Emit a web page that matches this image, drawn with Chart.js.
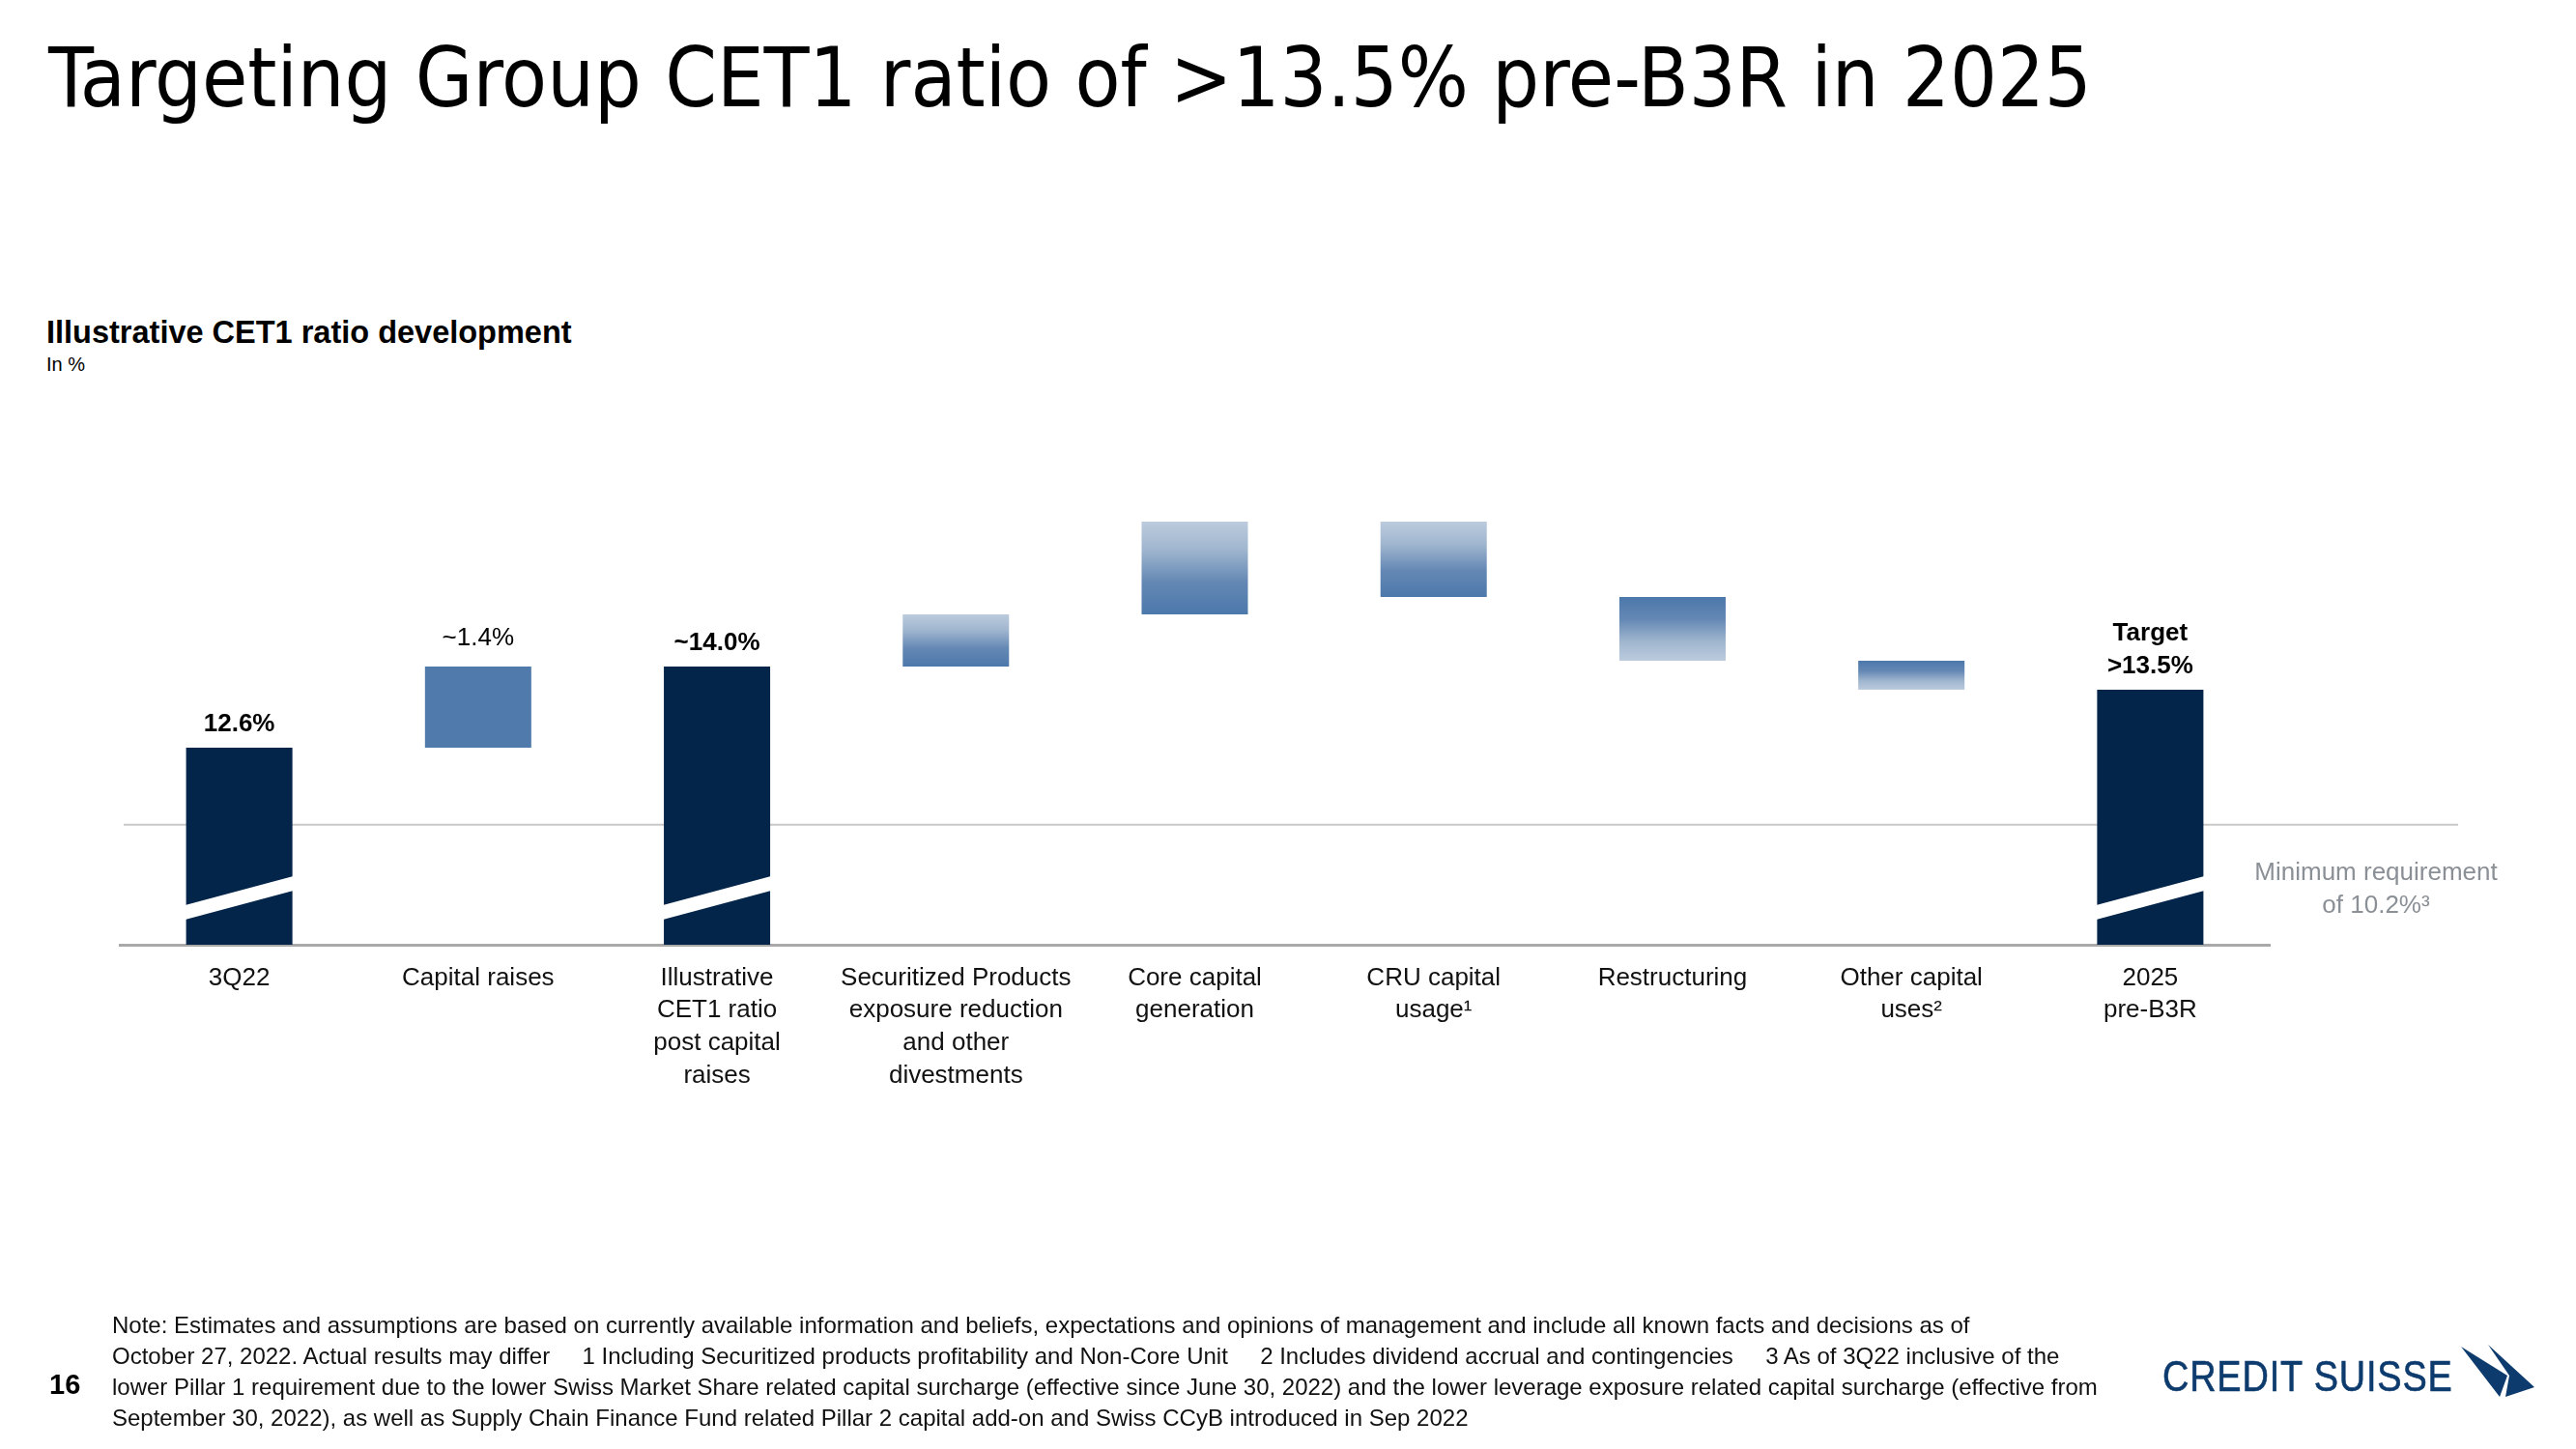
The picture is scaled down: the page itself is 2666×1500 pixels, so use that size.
<!DOCTYPE html>
<html>
<head>
<meta charset="utf-8">
<script src="https://cdn.jsdelivr.net/npm/chart.js@4.4.0/dist/chart.umd.min.js"></script>
<style>
  body { margin: 0; width: 2666px; height: 1500px; background: #fff; position: relative; overflow: hidden;
         font-family: "Liberation Sans", Arial, sans-serif; color: #000; }
  #wrap { position: absolute; left: 0; top: 0; width: 2666px; height: 1500px; }
  .title { position: absolute; left: 50px; top: 38px; font-family: "DejaVu Sans Condensed", "DejaVu Sans", sans-serif;
           font-size: 85.5px; line-height: 1; white-space: nowrap; }
  .sub { position: absolute; left: 48px; top: 326px; font-weight: bold; font-size: 32.5px; white-space: nowrap; }
  .unit { position: absolute; left: 48px; top: 366px; font-size: 20px; }
  .page { position: absolute; left: 51px; top: 1417px; font-weight: bold; font-size: 29px; }
  .note { position: absolute; left: 116px; top: 1356px; font-size: 24px; line-height: 32px; white-space: nowrap; color: #111; }
  .logo { position: absolute; left: 2238px; top: 1400px; font-size: 44px; color: #0d3b6e; white-space: nowrap;
          transform: scaleX(0.86); transform-origin: left top; letter-spacing: 1px; -webkit-text-stroke: 0.6px #0d3b6e; }
  .sail { position: absolute; left: 2543px; top: 1388px; }
</style>
</head>
<body>
<div class="title">Targeting Group CET1 ratio of &gt;13.5% pre-B3R in 2025</div>
<div class="sub">Illustrative CET1 ratio development</div>
<div class="unit">In %</div>
<div id="wrap"><canvas id="myCanvas"></canvas></div>
<div class="page">16</div>
<div class="note">Note: Estimates and assumptions are based on currently available information and beliefs, expectations and opinions of management and include all known facts and decisions as of<br>October 27, 2022. Actual results may differ &nbsp;&nbsp;&nbsp; 1 Including Securitized products profitability and Non-Core Unit &nbsp;&nbsp;&nbsp; 2 Includes dividend accrual and contingencies &nbsp;&nbsp;&nbsp; 3 As of 3Q22 inclusive of the<br>lower Pillar 1 requirement due to the lower Swiss Market Share related capital surcharge (effective since June 30, 2022) and the lower leverage exposure related capital surcharge (effective from<br>September 30, 2022), as well as Supply Chain Finance Fund related Pillar 2 capital add-on and Swiss CCyB introduced in Sep 2022</div>
<div class="logo">CREDIT SUISSE</div>
<svg class="sail" width="84" height="62" viewBox="0 0 84 62">
  <polygon points="4,6 52,36 44,58" fill="#0d3b6e"/>
  <polygon points="32,4 80,48 50,58 54,36" fill="#0d3b6e"/>
</svg>
<script>
// categories (multi-line axis labels)
var categories = [
    ['3Q22'],
    ['Capital raises'],
    ['Illustrative', 'CET1 ratio', 'post capital', 'raises'],
    ['Securitized Products', 'exposure reduction', 'and other', 'divestments'],
    ['Core capital', 'generation'],
    ['CRU capital', 'usage\u00B9'],
    ['Restructuring'],
    ['Other capital', 'uses\u00B2'],
    ['2025', 'pre-B3R']
];
// totals (full bars) and steps (floating bars), in %
var totals = [12.6, null, 14.0, null, null, null, null, null, 13.6];
var steps = [null, 1.4, null, 0.9, 1.6, -1.3, -1.1, -0.5, null];
var valueLabels = ['12.6%', '~1.4%', '~14.0%', '', '', '', '', '', 'Target\n>13.5%'];
var boldLabels = [true, false, true, false, false, false, false, false, true];
// broken axis: floor of the visible scale and where the minimum line sits on it
var axisFloor = 9.2;
var axisTop = 17.0;
var minLineLevel = 11.27;
var minLabel = ['Minimum requirement', 'of 10.2%\u00B3'];
// fill style of each bar: light-to-dark direction for the steps
var fillKind = ['total', 'solid', 'total', 'up', 'up', 'up', 'down', 'down', 'total'];

var NAVY = '#03254a';
var MID = '#4f7aab';

// build floating ranges from the running sum
var ranges = [];
var running = 0;
for (var i = 0; i < categories.length; i++) {
    if (totals[i] !== null) {
        running = totals[i];
        ranges.push([axisFloor, totals[i]]);
    } else {
        var from = running;
        running = +(running + steps[i]).toFixed(2);
        ranges.push([Math.min(from, running), Math.max(from, running)]);
    }
}

function barFill(c) {
    var kind = fillKind[c.dataIndex];
    if (kind === 'total') return NAVY;
    if (kind === 'solid') return MID;
    var chart = c.chart;
    if (!chart.chartArea || !chart.scales.y) return MID;
    var r = ranges[c.dataIndex];
    var yTop = chart.scales.y.getPixelForValue(r[1]);
    var yBot = chart.scales.y.getPixelForValue(r[0]);
    var g = chart.ctx.createLinearGradient(0, yTop, 0, yBot);
    if (kind === 'up') {
        g.addColorStop(0, '#bccbdd');
        g.addColorStop(0.3, '#a0b6cf');
        g.addColorStop(0.65, '#6488b4');
        g.addColorStop(1, '#4c78ab');
    } else {
        g.addColorStop(0, '#4c78ab');
        g.addColorStop(0.35, '#6488b4');
        g.addColorStop(0.7, '#a0b6cf');
        g.addColorStop(1, '#bccbdd');
    }
    return g;
}

var overlay = {
    id: 'overlay',
    beforeDatasetsDraw: function(chart) {
        var ctx = chart.ctx, area = chart.chartArea;
        var ly = chart.scales.y.getPixelForValue(minLineLevel);
        ctx.save();
        ctx.strokeStyle = '#c8c8c8';
        ctx.lineWidth = 2;
        ctx.beginPath();
        ctx.moveTo(area.left + 4, ly);
        ctx.lineTo(chart.width - 122, ly);
        ctx.stroke();
        ctx.fillStyle = '#8b9097';
        ctx.font = '26px "Liberation Sans"';
        ctx.textAlign = 'center';
        ctx.textBaseline = 'middle';
        ctx.fillText(minLabel[0], chart.width - 207, ly + 50);
        ctx.fillText(minLabel[1], chart.width - 207, ly + 84);
        ctx.restore();
    },
    afterDatasetsDraw: function(chart) {
        var ctx = chart.ctx, area = chart.chartArea;
        var meta = chart.getDatasetMeta(0);
        ctx.save();
        for (var i = 0; i < meta.data.length; i++) {
            var bar = meta.data[i];
            var left = bar.x - bar.width / 2 - 1, right = bar.x + bar.width / 2 + 1;
            // axis break stripe on full bars
            if (totals[i] !== null) {
                var b = area.bottom;
                ctx.fillStyle = '#ffffff';
                ctx.beginPath();
                ctx.moveTo(left, b - 26);
                ctx.lineTo(right, b - 56);
                ctx.lineTo(right, b - 71);
                ctx.lineTo(left, b - 41);
                ctx.closePath();
                ctx.fill();
            }
            if (!valueLabels[i]) continue;
            var top = Math.min(bar.y, bar.base);
            var lines = valueLabels[i].split('\n');
            ctx.fillStyle = '#000';
            ctx.font = (boldLabels[i] ? 'bold ' : '') + '26px "Liberation Sans"';
            ctx.textAlign = 'center';
            ctx.textBaseline = 'middle';
            var off = boldLabels[i] ? 24 : 29;
            for (var k = 0; k < lines.length; k++) {
                ctx.fillText(lines[k], bar.x, top - off - (lines.length - 1 - k) * 34);
            }
        }
        ctx.restore();
    }
};

var configure = {
    type: 'bar',
    data: {
        labels: categories,
        datasets: [{
            label: 'CET1 ratio',
            data: ranges,
            backgroundColor: barFill,
            borderWidth: 0,
            borderSkipped: false,
            categoryPercentage: 1,
            barPercentage: 0.445
        }]
    },
    options: {
        responsive: true,
        maintainAspectRatio: false,
        animation: false,
        layout: { padding: { top: 510, left: 124, right: 317, bottom: 322 } },
        plugins: { legend: { display: false }, tooltip: { enabled: false }, title: { display: false } },
        scales: {
            x: {
                grid: { display: false, drawTicks: false },
                border: { display: true, color: '#a9a9a9', width: 3 },
                ticks: {
                    color: '#111',
                    font: { family: '"Liberation Sans"', size: 26, lineHeight: 1.29 },
                    padding: 18,
                    maxRotation: 0,
                    autoSkip: false
                },
                afterFit: function(scale) { scale.height = 200; }
            },
            y: {
                display: false,
                min: axisFloor,
                max: axisTop
            }
        }
    },
    plugins: [overlay]
};

window.barChart = new Chart(document.getElementById('myCanvas').getContext('2d'), configure);
</script>
</body>
</html>
